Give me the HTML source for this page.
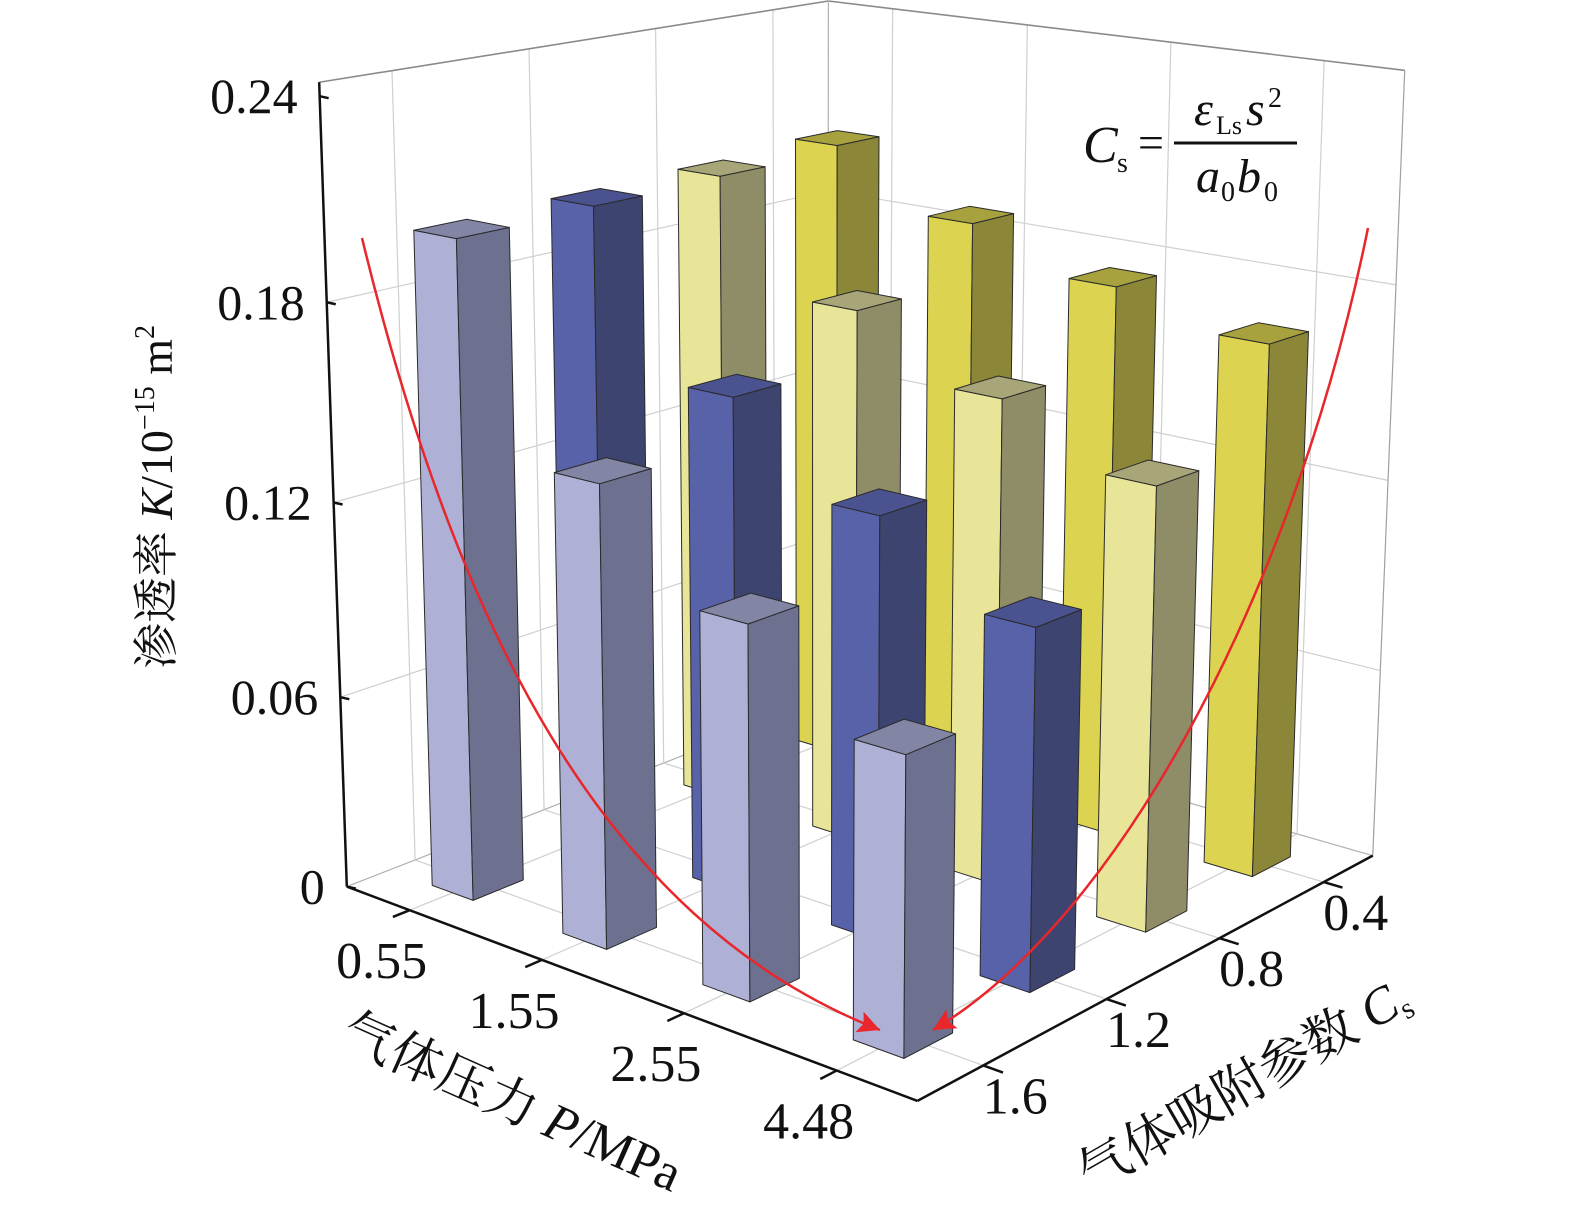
<!DOCTYPE html>
<html><head><meta charset="utf-8"><style>
html,body{margin:0;padding:0;background:#fff;}
svg{display:block;font-family:"Liberation Serif","Noto Serif CJK SC","Noto Sans CJK SC",serif;}
</style></head><body>
<svg id="chart" width="1575" height="1225" viewBox="0 0 1575 1225" xmlns="http://www.w3.org/2000/svg">
<defs>
<marker id="arrh" viewBox="0 0 10 10" markerWidth="30" markerHeight="22" refX="10" refY="5" orient="auto" markerUnits="userSpaceOnUse"><path d="M0,0 L10,5 L0,10 L2,5 Z" fill="#e8262b"/></marker></defs>
<g id="walls"></g>
<g id="floor"></g>
<g id="bars"></g>
<g id="axes"></g>
<g id="labels"></g>
<path d="M362,238 C455,620 600,920 880,1030" fill="none" stroke="#e8262b" stroke-width="2.5" marker-end="url(#arrh)"/>
<path d="M1368,228 C1290,610 1110,925 933,1030" fill="none" stroke="#e8262b" stroke-width="2.5" marker-end="url(#arrh)"/>
<g font-style="italic" fill="#111">
<text x="1083" y="162" font-size="52">C</text>
<text x="1117" y="172" font-size="28" font-style="normal">s</text>
<text x="1138" y="158" font-size="46" font-style="normal">=</text>
<line x1="1174" y1="143" x2="1297" y2="143" stroke="#111" stroke-width="3"/>
<text x="1194" y="125" font-size="48">ε</text>
<text x="1216" y="134" font-size="26" font-style="normal">Ls</text>
<text x="1246" y="125" font-size="48">s</text>
<text x="1268" y="107" font-size="28" font-style="normal">2</text>
<text x="1196" y="192" font-size="48">a</text>
<text x="1221" y="201" font-size="28" font-style="normal">0</text>
<text x="1237" y="192" font-size="48">b</text>
<text x="1264" y="201" font-size="28" font-style="normal">0</text>
</g>
<text transform="translate(172,497) rotate(-90)" text-anchor="middle" font-size="46" fill="#111">渗透率 <tspan font-style="italic">K</tspan>/10<tspan font-size="28" dy="-18">−15</tspan><tspan dy="18"> m</tspan><tspan font-size="28" dy="-18">2</tspan></text>
<text transform="translate(505,1118) rotate(24)" text-anchor="middle" font-size="52" fill="#111">气体压力 <tspan font-style="italic">P</tspan>/MPa</text>
<text transform="translate(1252,1100) rotate(-30)" text-anchor="middle" font-size="52" fill="#111">气体吸附参数 <tspan font-style="italic">C</tspan><tspan font-size="30" dy="8">s</tspan></text>
</svg>
<script>
const pressureCats = ["0.55","1.55","2.55","4.48"];
const csCats = ["1.6","1.2","0.8","0.4"];
const zTicks = [0,0.06,0.12,0.18,0.24];
const zTickLabels = ["0","0.06","0.12","0.18","0.24"];
const kCs16 = [0.201,0.139,0.110,0.086];
const kCs12 = [0.202,0.153,0.128,0.107];
const kCs08 = [0.203,0.169,0.151,0.135];
const kCs04 = [0.205,0.187,0.175,0.166];
const seriesVals = [kCs16,kCs12,kCs08,kCs04];
const seriesColors = [["#aeb0d6","#6e7090","#8385a5"],["#5862a8","#3e4470","#4a5290"],["#e8e498","#8f8c68","#a8a578"],["#dcd450","#8b8638","#a8a23e"]];
const ZMAX = 0.244;
const corr = [[0,0,0,349,881],[1,0,0,917,1108],[1,1,0,1370,849],[0,1,0,828,708],
 [0,0,ZMAX,318,88],[0,1,ZMAX,828,0],[1,1,ZMAX,1404,78],[0,1,0.18,828,188],[0,0,0.18,326,296],[1,1,0.18,1400,278]];
function solve(){
  const zs=4; const M=[],b=[];
  corr.forEach(c=>{const X=c[0],Y=c[1],Z=c[2]*zs,x=c[3],y=c[4];
    M.push([X,Y,Z,1,0,0,0,0,-x*X,-x*Y,-x*Z]);b.push(x);
    M.push([0,0,0,0,X,Y,Z,1,-y*X,-y*Y,-y*Z]);b.push(y);});
  const n=11;const A=[];for(let i=0;i<n;i++){A.push(new Array(n+1).fill(0));}
  for(let r=0;r<M.length;r++)for(let i=0;i<n;i++){for(let j=0;j<n;j++)A[i][j]+=M[r][i]*M[r][j];A[i][n]+=M[r][i]*b[r];}
  for(let i=0;i<n;i++){let p=i;for(let k=i+1;k<n;k++)if(Math.abs(A[k][i])>Math.abs(A[p][i]))p=k;const t=A[i];A[i]=A[p];A[p]=t;
    for(let k=0;k<n;k++){if(k===i)continue;const f=A[k][i]/A[i][i];for(let j=i;j<=n;j++)A[k][j]-=f*A[i][j];}}
  const P=A.map((r,i)=>r[n]/r[i]);
  return function(u,v,z){const Z=z*zs;const w=P[8]*u+P[9]*v+P[10]*Z+1;
    return [(P[0]*u+P[1]*v+P[2]*Z+P[3])/w,(P[4]*u+P[5]*v+P[6]*Z+P[7])/w];};
}
const proj=solve();
const NS="http://www.w3.org/2000/svg";
function mk(parent,tag){const e=document.createElementNS(NS,tag);parent.appendChild(e);return e;}
function line(g,a,b,stroke,sw,name){const p=proj(a[0],a[1],a[2]),q=proj(b[0],b[1],b[2]);
  const e=mk(g,"line");
  e.setAttribute("x1",p[0]);e.setAttribute("y1",p[1]);e.setAttribute("x2",q[0]);e.setAttribute("y2",q[1]);
  e.setAttribute("stroke",stroke);e.setAttribute("stroke-width",sw);
  
  
  return e;}
function poly(g,pts,fill,name){const e=mk(g,"polygon");
  e.setAttribute("points",pts.map(p=>{const q=proj(p[0],p[1],p[2]);return q[0].toFixed(1)+","+q[1].toFixed(1);}).join(" "));
  e.setAttribute("fill",fill);e.setAttribute("stroke","#2a2a2a");e.setAttribute("stroke-width","1");e.setAttribute("stroke-linejoin","round");
  
  
  return e;}
function txt(g,x,y,s,size,anchor,name){const e=mk(g,"text");
  e.setAttribute("x",x);e.setAttribute("y",y);e.setAttribute("font-size",size);e.setAttribute("text-anchor",anchor);e.setAttribute("fill","#111");
  e.textContent=s;
  
  
  return e;}
const walls=document.getElementById("walls"),floor=document.getElementById("floor"),barsG=document.getElementById("bars"),axes=document.getElementById("axes"),labels=document.getElementById("labels");
const centers=[0.125,0.375,0.625,0.875];
const GRID="#cfcfcf";
[0.06,0.12,0.18].forEach(z=>{line(walls,[0,0,z],[0,1,z],GRID,1.2,"left-wall-gridline");line(walls,[0,1,z],[1,1,z],GRID,1.2,"right-wall-gridline");});
centers.forEach(c=>{line(walls,[0,c,0],[0,c,ZMAX],GRID,1.2,"left-wall-vertical-gridline");line(walls,[c,1,0],[c,1,ZMAX],GRID,1.2,"right-wall-vertical-gridline");
  line(floor,[c,0,0],[c,1,0],GRID,1.2,"floor-gridline-pressure");line(floor,[0,c,0],[1,c,0],GRID,1.2,"floor-gridline-cs");});
line(walls,[0,0,ZMAX],[0,1,ZMAX],"#8a8a8a",1.6,"left-wall-top-edge");
line(walls,[0,1,ZMAX],[1,1,ZMAX],"#8a8a8a",1.6,"right-wall-top-edge");
line(walls,[0,1,0],[0,1,ZMAX],"#b0b0b0",1.2,"back-corner-edge");
line(walls,[1,1,0],[1,1,ZMAX],"#a0a0a0",1.2,"right-wall-edge");
line(walls,[0,1,0],[1,1,0],"#b0b0b0",1.2,"floor-back-edge-right");
line(walls,[0,0,0],[0,1,0],"#b0b0b0",1.2,"floor-back-edge-left");
const wu=0.04,wv=0.047;
const order=[];for(let j=0;j<4;j++)for(let i=0;i<4;i++)order.push([i,j]);
order.sort((a,b)=>(centers[a[0]]-centers[a[1]])-(centers[b[0]]-centers[b[1]]));
order.forEach(o=>{const i=o[0],j=o[1];const u=centers[i],v=centers[j],h=seriesVals[j][i];const col=seriesColors[j];
  const g=mk(barsG,"g");
  
  
  const u0=u-wu,u1=u+wu,v0=v-wv,v1=v+wv;
  poly(g,[[u0,v0,0],[u1,v0,0],[u1,v0,h],[u0,v0,h]],col[0],"bar-front-face");
  poly(g,[[u1,v0,0],[u1,v1,0],[u1,v1,h],[u1,v0,h]],col[1],"bar-side-face");
  poly(g,[[u0,v0,h],[u1,v0,h],[u1,v1,h],[u0,v1,h]],col[2],"bar-top-face");
});
line(axes,[0,0,0],[0,0,ZMAX],"#111",2.5,"z-axis-line");
line(axes,[0,0,0],[1,0,0],"#111",2.5,"pressure-axis-line");
line(axes,[1,0,0],[1,1,0],"#111",2.5,"cs-axis-line");
zTicks.forEach((z,k)=>{const p=proj(0,0,z);
  const t=mk(axes,"line");t.setAttribute("x1",p[0]);t.setAttribute("y1",p[1]);t.setAttribute("x2",p[0]+9);t.setAttribute("y2",p[1]+2);t.setAttribute("stroke","#111");t.setAttribute("stroke-width","2.5");
  
  
  txt(labels,p[0]-22,p[1]+17,zTickLabels[k],50,"end","z-tick-label");});
pressureCats.forEach((s,i)=>{const a=proj(centers[i],0,0),b=proj(centers[i],-0.03,0);
  const t=mk(axes,"line");t.setAttribute("x1",a[0]);t.setAttribute("y1",a[1]);t.setAttribute("x2",b[0]);t.setAttribute("y2",b[1]);t.setAttribute("stroke","#111");t.setAttribute("stroke-width","2.5");
  
  
  txt(labels,a[0]-28,a[1]+68,s,52,"middle","pressure-tick-label");});
csCats.forEach((s,j)=>{const a=proj(1,centers[j],0),b=proj(1.03,centers[j],0);
  const t=mk(axes,"line");t.setAttribute("x1",a[0]);t.setAttribute("y1",a[1]);t.setAttribute("x2",b[0]);t.setAttribute("y2",b[1]);t.setAttribute("stroke","#111");t.setAttribute("stroke-width","2.5");
  
  
  txt(labels,a[0]+32,a[1]+48,s,52,"middle","cs-tick-label");});
</script>
</body></html>
